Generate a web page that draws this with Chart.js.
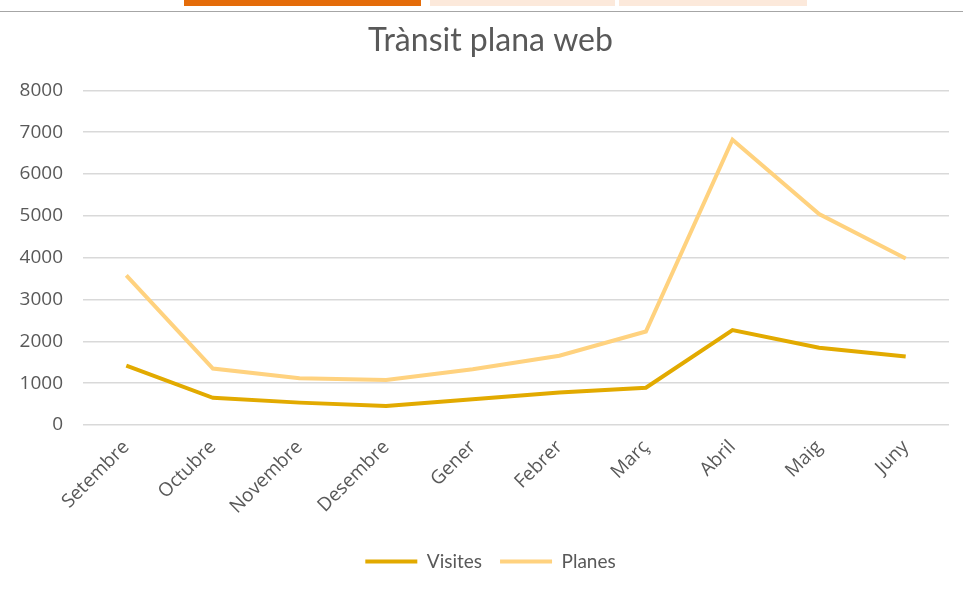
<!DOCTYPE html>
<html>
<head>
<meta charset="utf-8">
<script src="https://cdn.jsdelivr.net/npm/chart.js@4"></script>
<style>
  html, body { margin: 0; padding: 0; background: #fff; }
  #wrap { position: relative; width: 963px; height: 592px; }
  .tab { position: absolute; top: 0; height: 6px; }
  #rule { position: absolute; left: 0; top: 11px; width: 963px; height: 1px; background: #a6a6a6; }
  canvas { position: absolute; left: 0; top: 0; }
</style>
</head>
<body>
<div id="wrap">
  <div class="tab" style="left:184px;width:237px;background:#e46c0a"></div>
  <div class="tab" style="left:430px;width:185px;background:#fce9db"></div>
  <div class="tab" style="left:619px;width:188px;background:#fce9db"></div>
  <div id="rule"></div>
  <canvas id="traffic" width="963" height="592"></canvas>
</div>
<script>
const months = ["Setembre", "Octubre", "Novembre", "Desembre", "Gener", "Febrer", "Març", "Abril", "Maig", "Juny"];
const visites = [1420, 650, 535, 455, 615, 775, 890, 2270, 1845, 1640];
const planes = [3580, 1350, 1120, 1075, 1335, 1655, 2235, 6820, 5045, 3980];
const yTicks = [0, 1000, 2000, 3000, 4000, 5000, 6000, 7000, 8000];

const textGrey = "#595959";
const tickFont = "'Open Sans', sans-serif";

// centre title and legend a little right of the canvas middle
const nudgeHeader = {
  id: "nudgeHeader",
  afterLayout(chart) {
    for (const box of [chart.titleBlock, chart.legend]) {
      if (!box) continue;
      box.left += 11;
      box.right += 11;
    }
  }
};

new Chart(document.getElementById("traffic"), {
  type: "line",
  data: {
    labels: months,
    datasets: [
      {
        label: "Visites",
        data: visites,
        borderColor: "#e2aa00",
        backgroundColor: "#e2aa00",
        borderWidth: 4,
        pointRadius: 0,
        tension: 0
      },
      {
        label: "Planes",
        data: planes,
        borderColor: "#ffd27f",
        backgroundColor: "#ffd27f",
        borderWidth: 4,
        pointRadius: 0,
        tension: 0
      }
    ]
  },
  plugins: [nudgeHeader],
  options: {
    responsive: false,
    animation: false,
    layout: { padding: { top: 18, left: 10, right: 14, bottom: 11 } },
    plugins: {
      title: {
        display: true,
        text: "Trànsit plana web",
        color: textGrey,
        font: { family: "Lato", size: 32, weight: "normal" },
        padding: { top: 3, bottom: 31 }
      },
      legend: {
        position: "bottom",
        labels: {
          color: textGrey,
          font: { family: "Lato", size: 19 },
          usePointStyle: true,
          pointStyle: "line",
          pointStyleWidth: 52,
          padding: 18
        }
      },
      tooltip: { enabled: false }
    },
    scales: {
      x: {
        offset: true,
        grid: { display: false },
        border: { display: false },
        ticks: {
          color: textGrey,
          font: { family: tickFont, size: 19 },
          maxRotation: 45,
          minRotation: 45,
          padding: 3
        },
        afterFit: (scale) => { scale.height = 109; }
      },
      y: {
        min: 0,
        max: 8000,
        afterBuildTicks: (scale) => { scale.ticks = yTicks.map(v => ({ value: v })); },
        grid: { color: "#d9d9d9", lineWidth: 1.5, drawTicks: false },
        border: { display: false },
        ticks: {
          color: textGrey,
          font: { family: tickFont, size: 19 },
          padding: 20,
          callback: (v) => String(v)
        },
        afterFit: (scale) => { scale.width = 73; }
      }
    }
  }
});
</script>
</body>
</html>
